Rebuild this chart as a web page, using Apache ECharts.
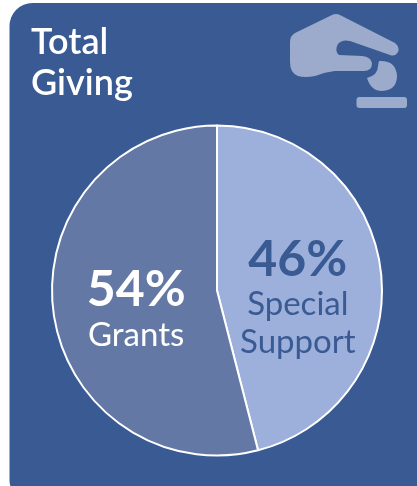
<!DOCTYPE html>
<html><head><meta charset="utf-8">
<style>html,body{margin:0;padding:0;background:#fff}#c{width:417px;height:486px}</style>
<script src="https://cdn.jsdelivr.net/npm/echarts@6/dist/echarts.min.js"></script>
</head><body><div id="c"></div>
<script>
const categories = ["Special\nSupport", "Grants"];
const values = [46, 54];
const sliceColors = ["#9DB0DB", "#6478A6"];
const titleText = "Total\nGiving";
const FONT = 'Lato';
const ICON = '#9CABCB';
echarts.graphic.registerShape('handIcon', echarts.graphic.extendPath('M332 15 Q336 13 340 15 L395 43 Q400 47 398 52 Q395 57 390 55 L350 41 Q342 39 338 44 Q334 51 339 55 L362 56 Q371 57 372 63 Q372 71 364 71 L335 71 Q325 72 315 76 Q305 78 298 76 Q290 73 290 62 L290 42 Q290 36 295 33 Z', {}));
echarts.graphic.registerShape('coinIcon', echarts.graphic.extendPath('M379 61 Q396 60 397 76 Q397 90 382 91 Q371 91 367 78 Q378 75 378 66 Z', {}));
const chart = echarts.init(document.getElementById('c'), null, {renderer:'canvas'});
chart.setOption({
  animation:false,
  backgroundColor:'#fff',
  title:{text:titleText,left:31,top:22,padding:0,textStyle:{color:'#fff',fontFamily:FONT,fontWeight:600,fontSize:36,lineHeight:41}},
  graphic:[
    {type:'rect',z:-10,shape:{x:9.5,y:3,width:430,height:500,r:23},style:{fill:'#3A5A94'}},
    {type:'handIcon',z:1,style:{fill:ICON}},
    {type:'coinIcon',z:1,style:{fill:ICON}},
    {type:'rect',z:1,shape:{x:356.5,y:97,width:50.5,height:11,r:3},style:{fill:ICON}}
  ],
  series:[{
    type:'pie',center:[217,290.5],radius:[0,165],startAngle:90,clockwise:true,
    itemStyle:{borderColor:'#fff',borderWidth:2},
    emphasis:{disabled:true},
    labelLine:{show:false},
    data:categories.map((n,i)=>({
      name:n,value:values[i],itemStyle:{color:sliceColors[i]},
      label:{show:true,position:'inside',offset:i===0?[-4,18]:[4,8],
        formatter:p=>`{v|${p.value}%}\n{n|${p.name.split('\n').join('}\n{n|')}}`,
        rich:{
          v:{fontFamily:FONT,fontWeight:700,fontSize:50,lineHeight:52,align:'center',color:i===0?'#3A5A94':'#fff'},
          n:{fontFamily:FONT,fontSize:33,lineHeight:38,align:'center',color:i===0?'#3A5A94':'#fff'}
        }}
    }))
  }]
});
</script></body></html>
